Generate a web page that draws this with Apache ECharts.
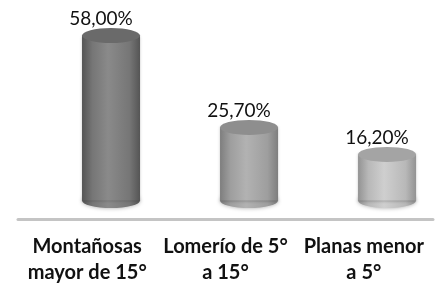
<html>
<head>
<meta charset="utf-8">
<title>Pendientes</title>
<script src="https://cdn.jsdelivr.net/npm/echarts@6/dist/echarts.min.js"></script>
<style>
  html, body { margin: 0; padding: 0; background: #fff; }
  #main { width: 438px; height: 286px; }
</style>
</head>
<body>
<div id="main"></div>
<script>
var categorias = ['Montañosas\nmayor de 15°', 'Lomerío de 5°\na 15°', 'Planas menor\na 5°']
var porcentajes = [58.0, 25.7, 16.2]

// edge / mid / highlight / top colours for each cylinder
var tonos = [
  { borde: '#555555', medio: '#767676', luz: '#8a8a8a', tapa: '#6a6a6a' },
  { borde: '#7e7e7e', medio: '#9e9e9e', luz: '#b2b2b2', tapa: '#8e8e8e' },
  { borde: '#939393', medio: '#b8b8b8', luz: '#cfcfcf', tapa: '#a4a4a4' }
]

var myChart = echarts.init(document.getElementById('main'))

var datos = porcentajes.map(function (v, i) { return [i, v] })

function cilindro(params, api) {
  var i = params.dataIndex
  var v = api.value(1)
  var top = api.coord([api.value(0), v])
  var base = api.coord([api.value(0), 0])
  var w = 58, ry = 7.5
  var t = tonos[i]
  var grad = new echarts.graphic.LinearGradient(0, 0, 1, 0, [
    { offset: 0, color: t.borde },
    { offset: 0.18, color: t.medio },
    { offset: 0.45, color: t.luz },
    { offset: 0.82, color: t.medio },
    { offset: 1, color: t.borde }
  ])
  return {
    type: 'group',
    children: [
      {
        type: 'circle',
        shape: { cx: 0, cy: 0, r: w / 2 },
        x: base[0], y: base[1], scaleY: ry / (w / 2),
        style: { fill: grad, shadowBlur: 4, shadowColor: 'rgba(0,0,0,0.35)' }
      },
      {
        type: 'rect',
        shape: { x: base[0] - w / 2, y: top[1], width: w, height: base[1] - top[1] },
        style: { fill: grad, shadowBlur: 3, shadowColor: 'rgba(0,0,0,0.3)' }
      },
      {
        type: 'circle',
        shape: { cx: 0, cy: 0, r: w / 2 },
        x: top[0], y: top[1], scaleY: ry / (w / 2),
        style: { fill: t.tapa }
      },
      {
        type: 'text',
        x: top[0] - 10, y: top[1] - ry,
        style: {
          text: v.toFixed(2).replace('.', ',') + '%',
          fill: '#111',
          font: '19px Lato',
          textAlign: 'center',
          textVerticalAlign: 'bottom'
        }
      }
    ]
  }
}

var option = {
  animation: false,
  grid: { left: 18, right: 5, top: 35.5, bottom: 64 },
  xAxis: [
    {
      type: 'category',
      data: categorias,
      axisLine: { onZero: false, lineStyle: { color: '#c4c4c4', width: 3 } },
      axisTick: { show: false },
      axisLabel: {
        margin: 15,
        interval: 0,
        color: '#111',
        fontFamily: 'Lato',
        fontWeight: 'bold',
        fontSize: 20,
        lineHeight: 26
      }
    },
    { type: 'value', min: -0.674, max: 2.333, show: false }
  ],
  yAxis: { type: 'value', min: -6.5, max: 58, show: false },
  series: [{
    type: 'custom',
    xAxisIndex: 1,
    renderItem: cilindro,
    data: datos,
    clip: false
  }]
}
myChart.setOption(option)
</script>
</body>
</html>
